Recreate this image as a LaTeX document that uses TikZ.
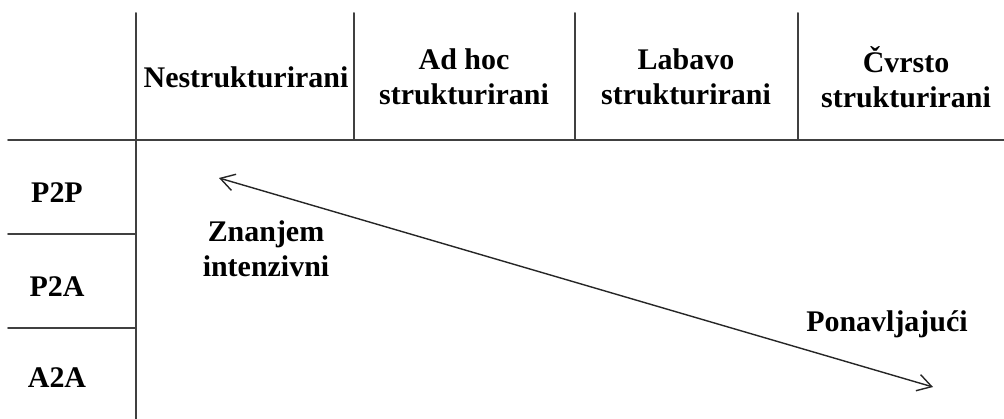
\documentclass[tikz,border=0pt]{standalone}
\usepackage{fontspec}
\setmainfont{Liberation Serif}
\usetikzlibrary{arrows.meta}
\begin{document}
\begin{tikzpicture}[x=0.025cm,y=-0.025cm,line join=round,line cap=round,>={Straight Barb[length=3.5mm,width=4.2mm]}]
				\tikzset{every node/.style={font=\bfseries\fontsize{21.3}{24.9}\selectfont,align=center,inner sep=0pt},
					grid/.style={draw=black!75,line width=1.4pt}}
				\useasboundingbox (0,0) rectangle (1004,419);
				\draw[grid] (8,140)--(1004,140);
				\draw[grid] (136,13)--(136,419);
				\draw[grid] (354,13)--(354,140);
				\draw[grid] (575,13)--(575,140);
				\draw[grid] (798,13)--(798,140);
				\draw[grid] (8,234)--(136,234);
				\draw[grid] (8,328)--(136,328);
				\node (nestr) at (246,77) {Nestrukturirani};
				\node (adhoc) at (464,77) {Ad hoc\\strukturirani};
				\node (labavo) at (686,77) {Labavo\\strukturirani};
				\node (cvrsto) at (906,77) {Čvrsto\\strukturirani};
				\node (ptp) at (57,193) {P2P};
				\node (pta) at (57,287) {P2A};
				\node (ata) at (57,378) {A2A};
				\node (znanje) at (266,249) {Znanjem\\intenzivni};
				\node (ponav) at (887,324) {Ponavljajući};
				\coordinate (gore) at (219,178);
				\coordinate (dolje) at (933,387);
				\draw[<->,line width=1pt,black!85] (gore)--(dolje);
			\end{tikzpicture}
\end{document}
